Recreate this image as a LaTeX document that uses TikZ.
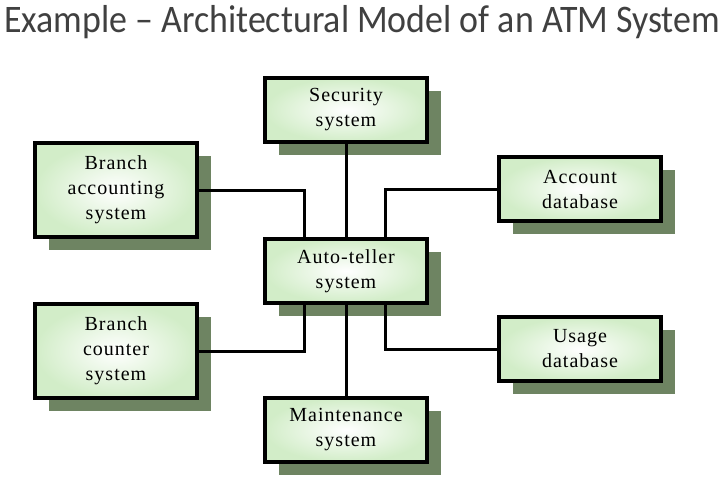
\documentclass[tikz,border=0pt]{standalone}
\usepackage{xcolor}
\usepackage{fontspec}
\usepackage{tikz}
\usetikzlibrary{positioning, calc, shadows}
\newfontfamily\titlefont{Carlito}
\newfontfamily\boxfont[LetterSpace=5]{Liberation Serif}
\definecolor{boxgreen}{HTML}{D2EDC8}
\definecolor{shadowgreen}{HTML}{6E8462}
\definecolor{titlegray}{HTML}{404040}
\tikzstyle{link} = [line width=3pt]

\begin{document}
\begin{tikzpicture}[x=1pt, y=-1pt, on grid]
        \tikzstyle{block}=[
            rectangle,
            draw, line width=3.5pt,
            minimum width=162pt, minimum height=64pt, % most boxes
            inner sep=0pt,
            align=center,
            shading=radial, inner color=white, outer color=boxgreen,
            drop shadow={shadow xshift=14pt, shadow yshift=-13pt, fill=shadowgreen, opacity=1},
            font=\boxfont\fontsize{20}{25}\selectfont
        ]
        \tikzstyle{tall}=[minimum height=94pt]

        \useasboundingbox (0,0) rectangle (728,487);
        \fill[white] (0,0) rectangle (728,487);

        \node[anchor=base west, inner sep=0pt, text=titlegray,
            font=\titlefont\fontsize{39}{44}\selectfont] (title) at (4,33)
            {\scalebox{0.92}[1]{Example – Architectural Model of an ATM System}};

        \node[block] (atm) at (346,271) {Auto-teller\\system};
        \node[block] (sec) [above=161pt of atm] {Security\\system};
        \node[block] (maint) [below=159pt of atm] {Maintenance\\system};
        \node[block, tall] (bacc) [above left=81pt and 230pt of atm] {Branch\\accounting\\system};
        \node[block, tall] (bcnt) [below left=80pt and 230pt of atm] {Branch\\counter\\system};
        \node[block] (accdb) [above right=82pt and 234pt of atm] {Account\\database};
        \node[block] (usedb) [below right=78pt and 234pt of atm] {Usage\\database};

        \draw[link] (sec) -- (atm);
        \draw[link] (atm) -- (maint);
        \draw[link] (bacc) -| ($(atm.north west)!.25!(atm.north east)$);
        \draw[link] (accdb) -| ($(atm.north west)!.74!(atm.north east)$);
        \draw[link] (bcnt) -| ($(atm.south west)!.25!(atm.south east)$);
        \draw[link] (usedb) -| ($(atm.south west)!.74!(atm.south east)$);

    \end{tikzpicture}
\end{document}
